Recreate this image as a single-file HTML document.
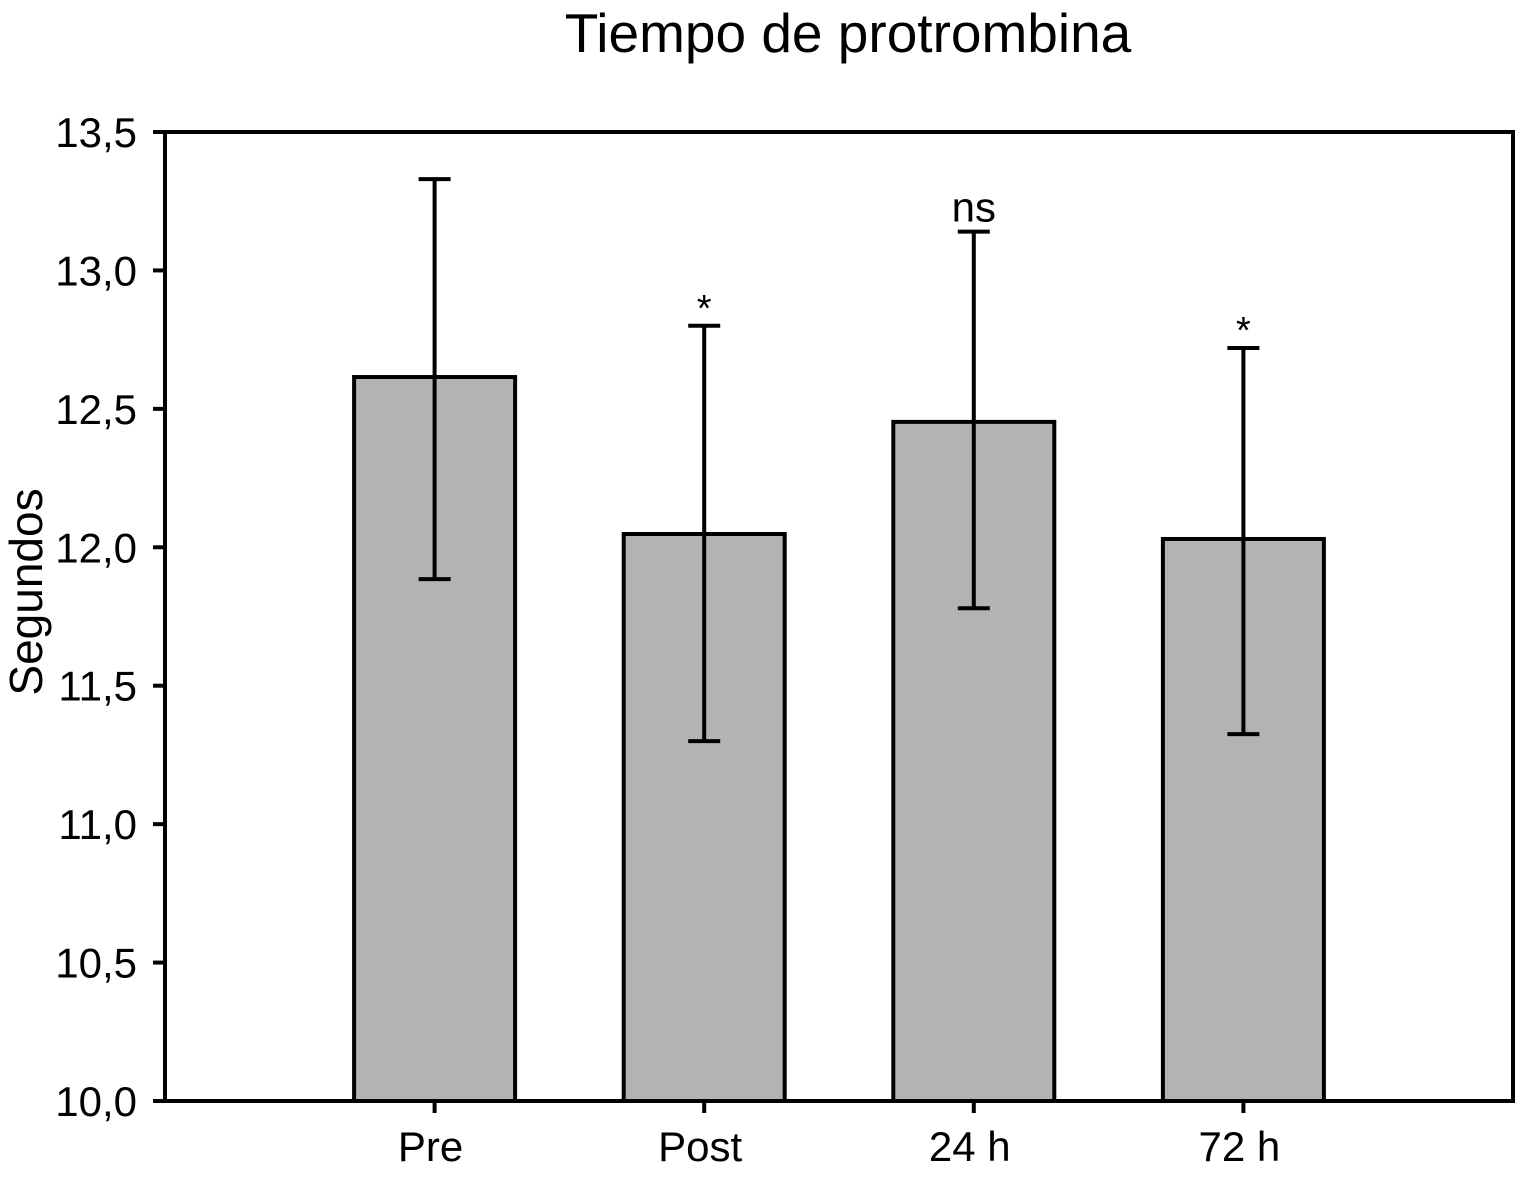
<!DOCTYPE html>
<html><head><meta charset="utf-8"><style>
html,body{margin:0;padding:0;background:#fff}
svg text{font-family:"Liberation Sans",Arial,sans-serif;fill:#000}
</style></head><body>
<svg id="chart" width="1521" height="1181" viewBox="0 0 1521 1181">
<text x="848" y="52" font-size="55" text-anchor="middle">Tiempo de protrombina</text>
<text transform="translate(42,592) rotate(-90)" font-size="46" text-anchor="middle">Segundos</text>
<g id="marks"></g>
<rect x="165" y="132" width="1348" height="969" fill="none" stroke="#000" stroke-width="4"/>
</svg>
<script>
const categories = ["Pre","Post","24 h","72 h"];
const means = [12.615, 12.048, 12.453, 12.03];
const errUpper = [13.33, 12.80, 13.14, 12.72];
const errLower = [11.885, 11.30, 11.78, 11.325];
const annotations = ["", "*", "ns", "*"];
const yTicks = [10.0, 10.5, 11.0, 11.5, 12.0, 12.5, 13.0, 13.5];
const yTickLabels = ["10,0","10,5","11,0","11,5","12,0","12,5","13,0","13,5"];

const L=165,R=1513,T=132,B=1101;
const y = v => B - (v-10)/(13.5-10)*(B-T);
const x = i => L + (i+1)*(R-L)/5;
const NS="http://www.w3.org/2000/svg";
const g=document.getElementById('marks');
function mk(tag,attrs){const e=document.createElementNS(NS,tag);for(const k in attrs)e.setAttribute(k,attrs[k]);g.appendChild(e);return e;}

yTicks.forEach((v,i)=>{
  const t=mk('line',{x1:L-12,x2:L,y1:y(v),y2:y(v),stroke:'#000','stroke-width':4});
  
  
  const tx=mk('text',{x:L-28,y:y(v)+15,'font-size':42,'text-anchor':'end'});
  tx.textContent=yTickLabels[i];
  
  
});
const bw=161;
categories.forEach((c,i)=>{
  const cx=x(i);
  const b=mk('rect',{x:cx-bw/2,y:y(means[i]),width:bw,height:B-y(means[i]),fill:'#b3b3b3',stroke:'#000','stroke-width':4});
  
  
  const e=mk('path',{d:`M${cx},${y(errUpper[i])}V${y(errLower[i])}M${cx-16},${y(errUpper[i])}H${cx+16}M${cx-16},${y(errLower[i])}H${cx+16}`,stroke:'#000','stroke-width':4,fill:'none'});
  
  
  const t=mk('line',{x1:cx,x2:cx,y1:B,y2:B+12,stroke:'#000','stroke-width':4});
  
  
  const l=mk('text',{x:cx-4,y:B+60,'font-size':42,'text-anchor':'middle'});
  l.textContent=c;
  
  
  if(annotations[i]){
    const star=annotations[i]==='*';
    const a=mk('text',{x:cx,y:star?y(errUpper[i])-5:y(errUpper[i])-10,'font-size':star?38:42,'text-anchor':'middle'});
    a.textContent=annotations[i];
    
    
  }
});
</script>
</body></html>
